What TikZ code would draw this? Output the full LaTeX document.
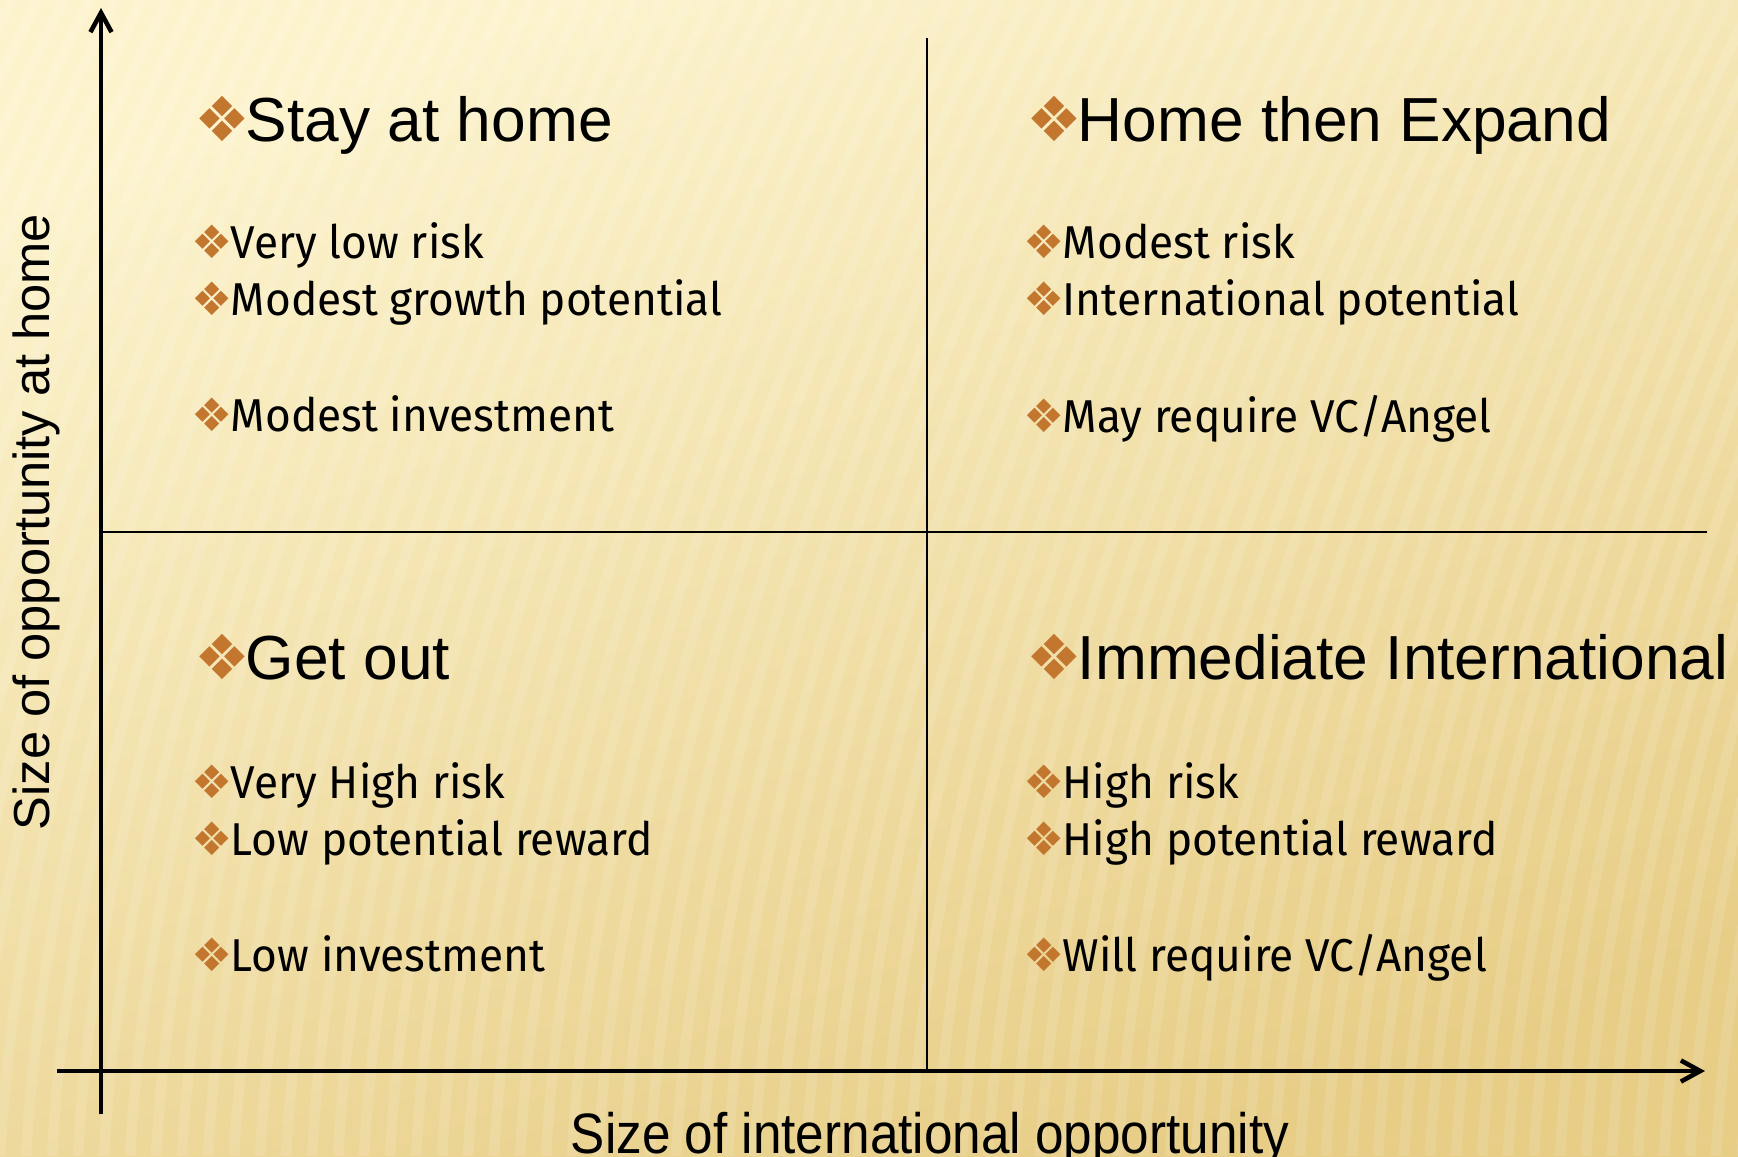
\documentclass[tikz,border=0pt]{standalone}
\usepackage{fontspec}
\setmainfont{Liberation Sans}
\newfontfamily\itemfont{Fira Sans}[FakeStretch=0.96]
\newfontfamily\axisfont{Liberation Sans}[FakeStretch=0.9]
\newfontfamily\symfont{DejaVu Sans}
\usetikzlibrary{arrows.meta, positioning}

\definecolor{bgtop}{RGB}{252,243,205}
\definecolor{bgbottom}{RGB}{231,205,134}
\definecolor{bulletcol}{RGB}{194,118,46}
\newcommand{\dia}{{\symfont\color{bulletcol}\char"2756}}

\tikzset{
  head/.style={font=\fontsize{17.7}{20}\selectfont, anchor=base west, inner sep=0pt},
  point/.style={font=\itemfont\fontsize{13.1}{15}\selectfont, anchor=base west, inner sep=0pt},
  axisline/.style={line width=1.1pt, -{Straight Barb[length=5.5pt,width=6pt,line width=1.3pt]}},
  divider/.style={line width=0.75pt}
}

\begin{document}
\begin{tikzpicture}[x=0.01cm, y=-0.01cm]
\useasboundingbox (0,0) rectangle (1738,1156);

% Background
\shade[top color=bgtop, bottom color=bgbottom, shading angle=20] (0,0) rectangle (1738,1156);
\begin{scope}
\clip (0,0) rectangle (1738,1156);
\foreach \s in {-16,...,67} {
    \pgfmathsetmacro{\xs}{\s*26}
    \draw[white, opacity=0.12, line width=3pt] (\xs,1156) .. controls (\xs+20,800) and (\xs+150,400) .. (\xs+350,0);
}
\end{scope}

% Axes
\coordinate (ybot) at (101,1114);
\coordinate (ytop) at (101,8);
\coordinate (xleft) at (57,1071);
\coordinate (xright) at (1705,1071);
\draw[axisline] (ybot) -- (ytop);
\draw[axisline] (xleft) -- (xright);

% Quadrant dividers
\coordinate (vtop) at (927,38);
\coordinate (vbot) at (927,1071);
\coordinate (hleft) at (101,532);
\coordinate (hright) at (1707,532);
\draw[divider] (vtop) -- (vbot);
\draw[divider] (hleft) -- (hright);

% Axis labels
\node[font=\axisfont\fontsize{16.2}{18}\selectfont, anchor=base, inner sep=0pt] (xlab) at (930,1153) {Size of international opportunity};
\node[font=\fontsize{14.4}{16}\selectfont, rotate=90, anchor=base, inner sep=0pt] (ylab) at (50,522) {Size of opportunity at home};

% Top left
\node[head] (stay) at (194,141) {\dia\kern-1.3pt Stay at home};
\node[point] (stay1) at (191,258) {\dia\kern-0.6pt Very low risk};
\node[point] (stay2) at (191,315) {\dia\kern-0.6pt Modest growth potential};
\node[point] (stay3) at (191,431) {\dia\kern-0.6pt Modest investment};

% Top right
\node[head] (expand) at (1026,141) {\dia\kern-1.3pt Home then Expand};
\node[point] (expand1) at (1023,258) {\dia\kern-0.6pt Modest risk};
\node[point] (expand2) at (1023,315) {\dia\kern-0.6pt International potential};
\node[point] (expand3) at (1023,432) {\dia\kern-0.6pt May require VC/Angel};

% Bottom left
\node[head] (getout) at (194,679) {\dia\kern-1.3pt Get out};
\node[point] (getout1) at (191,798) {\dia\kern-0.6pt Very High risk};
\node[point] (getout2) at (191,855) {\dia\kern-0.6pt Low potential reward};
\node[point] (getout3) at (191,971) {\dia\kern-0.6pt Low investment};

% Bottom right
\node[head] (intl) at (1026,679) {\dia\kern-1.3pt Immediate International};
\node[point] (intl1) at (1023,798) {\dia\kern-0.6pt High risk};
\node[point] (intl2) at (1023,855) {\dia\kern-0.6pt High potential reward};
\node[point] (intl3) at (1023,971) {\dia\kern-0.6pt Will require VC/Angel};
\end{tikzpicture}
\end{document}
